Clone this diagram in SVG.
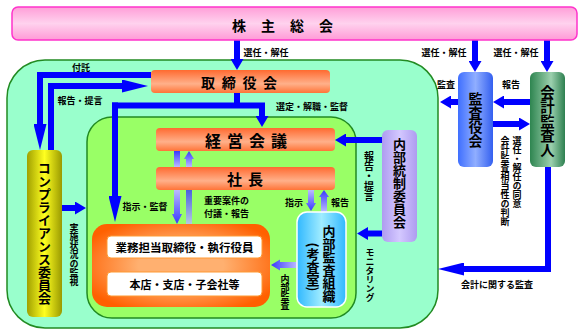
<svg xmlns="http://www.w3.org/2000/svg" width="583" height="335" viewBox="0 0 583 335">
<style>
text{font-family:"Noto Sans CJK JP","Noto Sans CJK SC",sans-serif;font-weight:bold;fill:#000}
.t{font-size:14px;dominant-baseline:central}
.s{font-size:9px;dominant-baseline:central}
.m{text-anchor:middle}
.v{writing-mode:vertical-rl;text-anchor:middle}
.ar{fill:none;stroke:#0000FF;stroke-width:6}
.bar{fill:url(#gOr)}
</style>
<defs>
<linearGradient id="gPink" x1="0" y1="0" x2="0" y2="1"><stop offset="0" stop-color="#FF9ED8"/><stop offset="0.5" stop-color="#FFD2EE"/><stop offset="1" stop-color="#FF9AD6"/></linearGradient>
<linearGradient id="gOr" x1="0" y1="0" x2="0" y2="1"><stop offset="0" stop-color="#FF6A30"/><stop offset="0.6" stop-color="#FFB08A"/><stop offset="1" stop-color="#FF7438"/></linearGradient>
<radialGradient id="gBiz" cx="0.5" cy="0.5" r="0.6"><stop offset="0.4" stop-color="#FFB070"/><stop offset="1" stop-color="#FF6000"/></radialGradient>
<linearGradient id="gYel" x1="0" y1="0" x2="1" y2="0"><stop offset="0" stop-color="#A0A000"/><stop offset="0.5" stop-color="#FFFF20"/><stop offset="1" stop-color="#9A9A00"/></linearGradient>
<linearGradient id="gBlue" x1="0" y1="0" x2="1" y2="0"><stop offset="0" stop-color="#3F6FFF"/><stop offset="0.5" stop-color="#90AEFF"/><stop offset="1" stop-color="#3460F0"/></linearGradient>
<linearGradient id="gGrn" x1="0" y1="0" x2="1" y2="0"><stop offset="0" stop-color="#2E8550"/><stop offset="0.6" stop-color="#9CD0AE"/><stop offset="1" stop-color="#2E8050"/></linearGradient>
<linearGradient id="gLav" x1="0" y1="0" x2="1" y2="0"><stop offset="0" stop-color="#AE9CF0"/><stop offset="0.5" stop-color="#D4C8FF"/><stop offset="1" stop-color="#AE9CF0"/></linearGradient>
<linearGradient id="gCyan" x1="0" y1="0" x2="1" y2="0"><stop offset="0" stop-color="#30B8FF"/><stop offset="0.5" stop-color="#A0ECFF"/><stop offset="1" stop-color="#30B8FF"/></linearGradient>
<linearGradient id="gDown" x1="0" y1="0" x2="0" y2="1"><stop offset="0" stop-color="#BBBBFF"/><stop offset="1" stop-color="#3838FF"/></linearGradient>
<linearGradient id="gUp" x1="0" y1="0" x2="0" y2="1"><stop offset="0" stop-color="#3838FF"/><stop offset="1" stop-color="#BBBBFF"/></linearGradient>
<linearGradient id="gLeft" x1="0" y1="0" x2="1" y2="0"><stop offset="0" stop-color="#3838FF"/><stop offset="1" stop-color="#BBBBFF"/></linearGradient>
<marker id="ah" markerUnits="userSpaceOnUse" markerWidth="11" markerHeight="13" refX="3" refY="6.5" orient="auto"><path d="M0,0 L11,6.5 L0,13 z" fill="#0000FF"/></marker>
<marker id="ahl" markerUnits="userSpaceOnUse" markerWidth="26" markerHeight="13" refX="4" refY="6.5" orient="auto"><path d="M0,0 L26,6.5 L0,13 z" fill="#0000FF"/></marker>
</defs>

<g id="regions">
<rect x="7" y="60" width="431" height="268" rx="38" fill="#99FFCC" stroke="#228B22" stroke-width="1.5"/>
<rect x="87" y="117" width="269" height="201" rx="25" fill="#99FF66" stroke="#228B22" stroke-width="1.5"/>
</g>

<g id="connectors">
<path class="ar" d="M237,40 V62" marker-end="url(#ah)"/>
<path class="ar" d="M475,40 V64" marker-end="url(#ah)"/>
<path class="ar" d="M547,40 V64" marker-end="url(#ah)"/>
<path class="ar" d="M151,75 H40 V128" marker-end="url(#ahl)"/>
<path class="ar" d="M51,150 V86 H126" marker-end="url(#ahl)"/>
<path class="ar" d="M237,93 V105.5"/>
<path class="ar" d="M112,105.5 H262 V119" marker-end="url(#ah)"/>
<path class="ar" d="M115,102.5 V200" marker-end="url(#ahl)"/>
<path class="ar" d="M382,140 H343" marker-end="url(#ah)"/>
<path class="ar" d="M382,233.5 H365" marker-end="url(#ah)"/>
<path class="ar" d="M458,102 H448" marker-end="url(#ah)"/>
<path class="ar" d="M530,102 H501" marker-end="url(#ah)"/>
<path class="ar" d="M493,124 H522" marker-end="url(#ah)"/>
<path class="ar" d="M548,167 V269 H460" marker-end="url(#ahl)"/>
<path class="ar" d="M62,208 H78" marker-end="url(#ah)"/>
<rect x="176" y="258" width="5" height="14" fill="#0000FF"/>
<rect x="174" y="151" width="6" height="16" fill="url(#gUp)"/>
<polygon points="186,167 186,159 184,159 189,151 194,159 192,159 192,167" fill="url(#gUp)"/>
<polygon points="174,190 174,214 172,214 177,224 182,214 180,214 180,190" fill="url(#gDown)"/>
<rect x="186" y="190" width="6" height="34" fill="url(#gUp)" opacity="0.8"/>
<polygon points="308,190 308,203 306,203 311,211 316,203 314,203 314,190" fill="url(#gDown)"/>
<polygon points="321,212 321,197 319,197 324,190 329,197 327,197 327,212" fill="url(#gUp)"/>
<polygon points="297,262 280,262 280,259.5 271,265 280,270.5 280,268 297,268" fill="url(#gLeft)"/>
</g>

<g id="labels">
<text class="s m" x="266" y="52">選任・解任</text>
<text class="s m" x="444" y="52">選任・解任</text>
<text class="s m" x="516" y="52">選任・解任</text>
<text class="s m" x="81" y="67">付託</text>
<text class="s m" x="80" y="100">報告・提言</text>
<text class="s m" x="312" y="106">選定・解職・監督</text>
<text class="s m" x="145" y="206">指示・監督</text>
<text class="s" x="204" y="200">重要案件の</text>
<text class="s" x="204" y="213">付議・報告</text>
<text class="s m" x="294" y="202">指示</text>
<text class="s m" x="340" y="202">報告</text>
<text class="s m" x="446" y="84">監査</text>
<text class="s m" x="511" y="84">報告</text>
<text class="s m" x="497" y="284">会計に関する監査</text>
<text class="s v" x="369" y="176" style="font-size:10px">報告・提言</text>
<text class="s v" x="370" y="275">モニタリング</text>
<text class="s v" x="74" y="255">実施状況の監視</text>
<text class="s v" x="285" y="292">内部監査</text>
<text class="s v" x="517" y="172">選任・解任の同意</text>
<text class="s v" x="505" y="181">会計監査相当性の判断</text>
</g>

<g id="shareholders">
<rect x="12" y="7" width="565" height="33" rx="6" fill="url(#gPink)" stroke="#FF33CC" stroke-width="1.5"/>
<text class="t" x="232" y="25" letter-spacing="15">株主総会</text>
</g>
<g id="board">
<rect class="bar" x="151" y="70" width="179" height="23" rx="4"/>
<text class="t" x="201" y="81.5" letter-spacing="6.7">取締役会</text>
</g>
<g id="mgmt-meeting">
<rect class="bar" x="156" y="128" width="179" height="23" rx="4"/>
<text class="t" x="205" y="140" style="font-size:16px" letter-spacing="6">経営会議</text>
</g>
<g id="president">
<rect class="bar" x="156" y="167" width="179" height="23" rx="4"/>
<text class="t" x="227" y="178.5" style="font-size:15px" letter-spacing="6">社長</text>
</g>
<g id="business">
<rect x="92" y="224" width="178" height="83" rx="15" fill="url(#gBiz)"/>
<rect x="107" y="236" width="155" height="22" rx="4" fill="#FFFFFF" stroke="#FF9933"/>
<text class="t m" x="184.5" y="247" style="font-size:11.5px">業務担当取締役・執行役員</text>
<rect x="107" y="272" width="155" height="24" rx="4" fill="#FFFFFF" stroke="#FF9933"/>
<text class="t m" x="184.5" y="284" style="font-size:11px">本店・支店・子会社等</text>
</g>
<g id="compliance">
<rect x="27" y="150" width="35" height="167" rx="6" fill="url(#gYel)"/>
<text class="t v" x="44.5" y="233" style="font-size:13px">コンプライアンス委員会</text>
</g>
<g id="internal-control">
<rect x="382" y="130" width="35" height="112" rx="6" fill="url(#gLav)"/>
<text class="t v" x="399.5" y="183" style="font-size:13px">内部統制委員会</text>
</g>
<g id="internal-audit">
<rect x="297" y="212" width="49" height="95" rx="10" fill="url(#gCyan)" stroke="#FFFFFF" stroke-width="1.5"/>
<text class="t v" x="329" y="264" style="font-size:13px">内部監査組織</text>
<text class="t v" x="313" y="267" style="font-size:13px">(考査室)</text>
</g>
<g id="auditors">
<rect x="458" y="72" width="35" height="95" rx="6" fill="url(#gBlue)"/>
<text class="t v" x="475.5" y="120">監査役会</text>
</g>
<g id="accounting-auditor">
<rect x="530" y="72" width="35" height="95" rx="6" fill="url(#gGrn)"/>
<text class="t v" x="547.5" y="121" style="font-size:14.5px">会計監査人</text>
</g>
</svg>
